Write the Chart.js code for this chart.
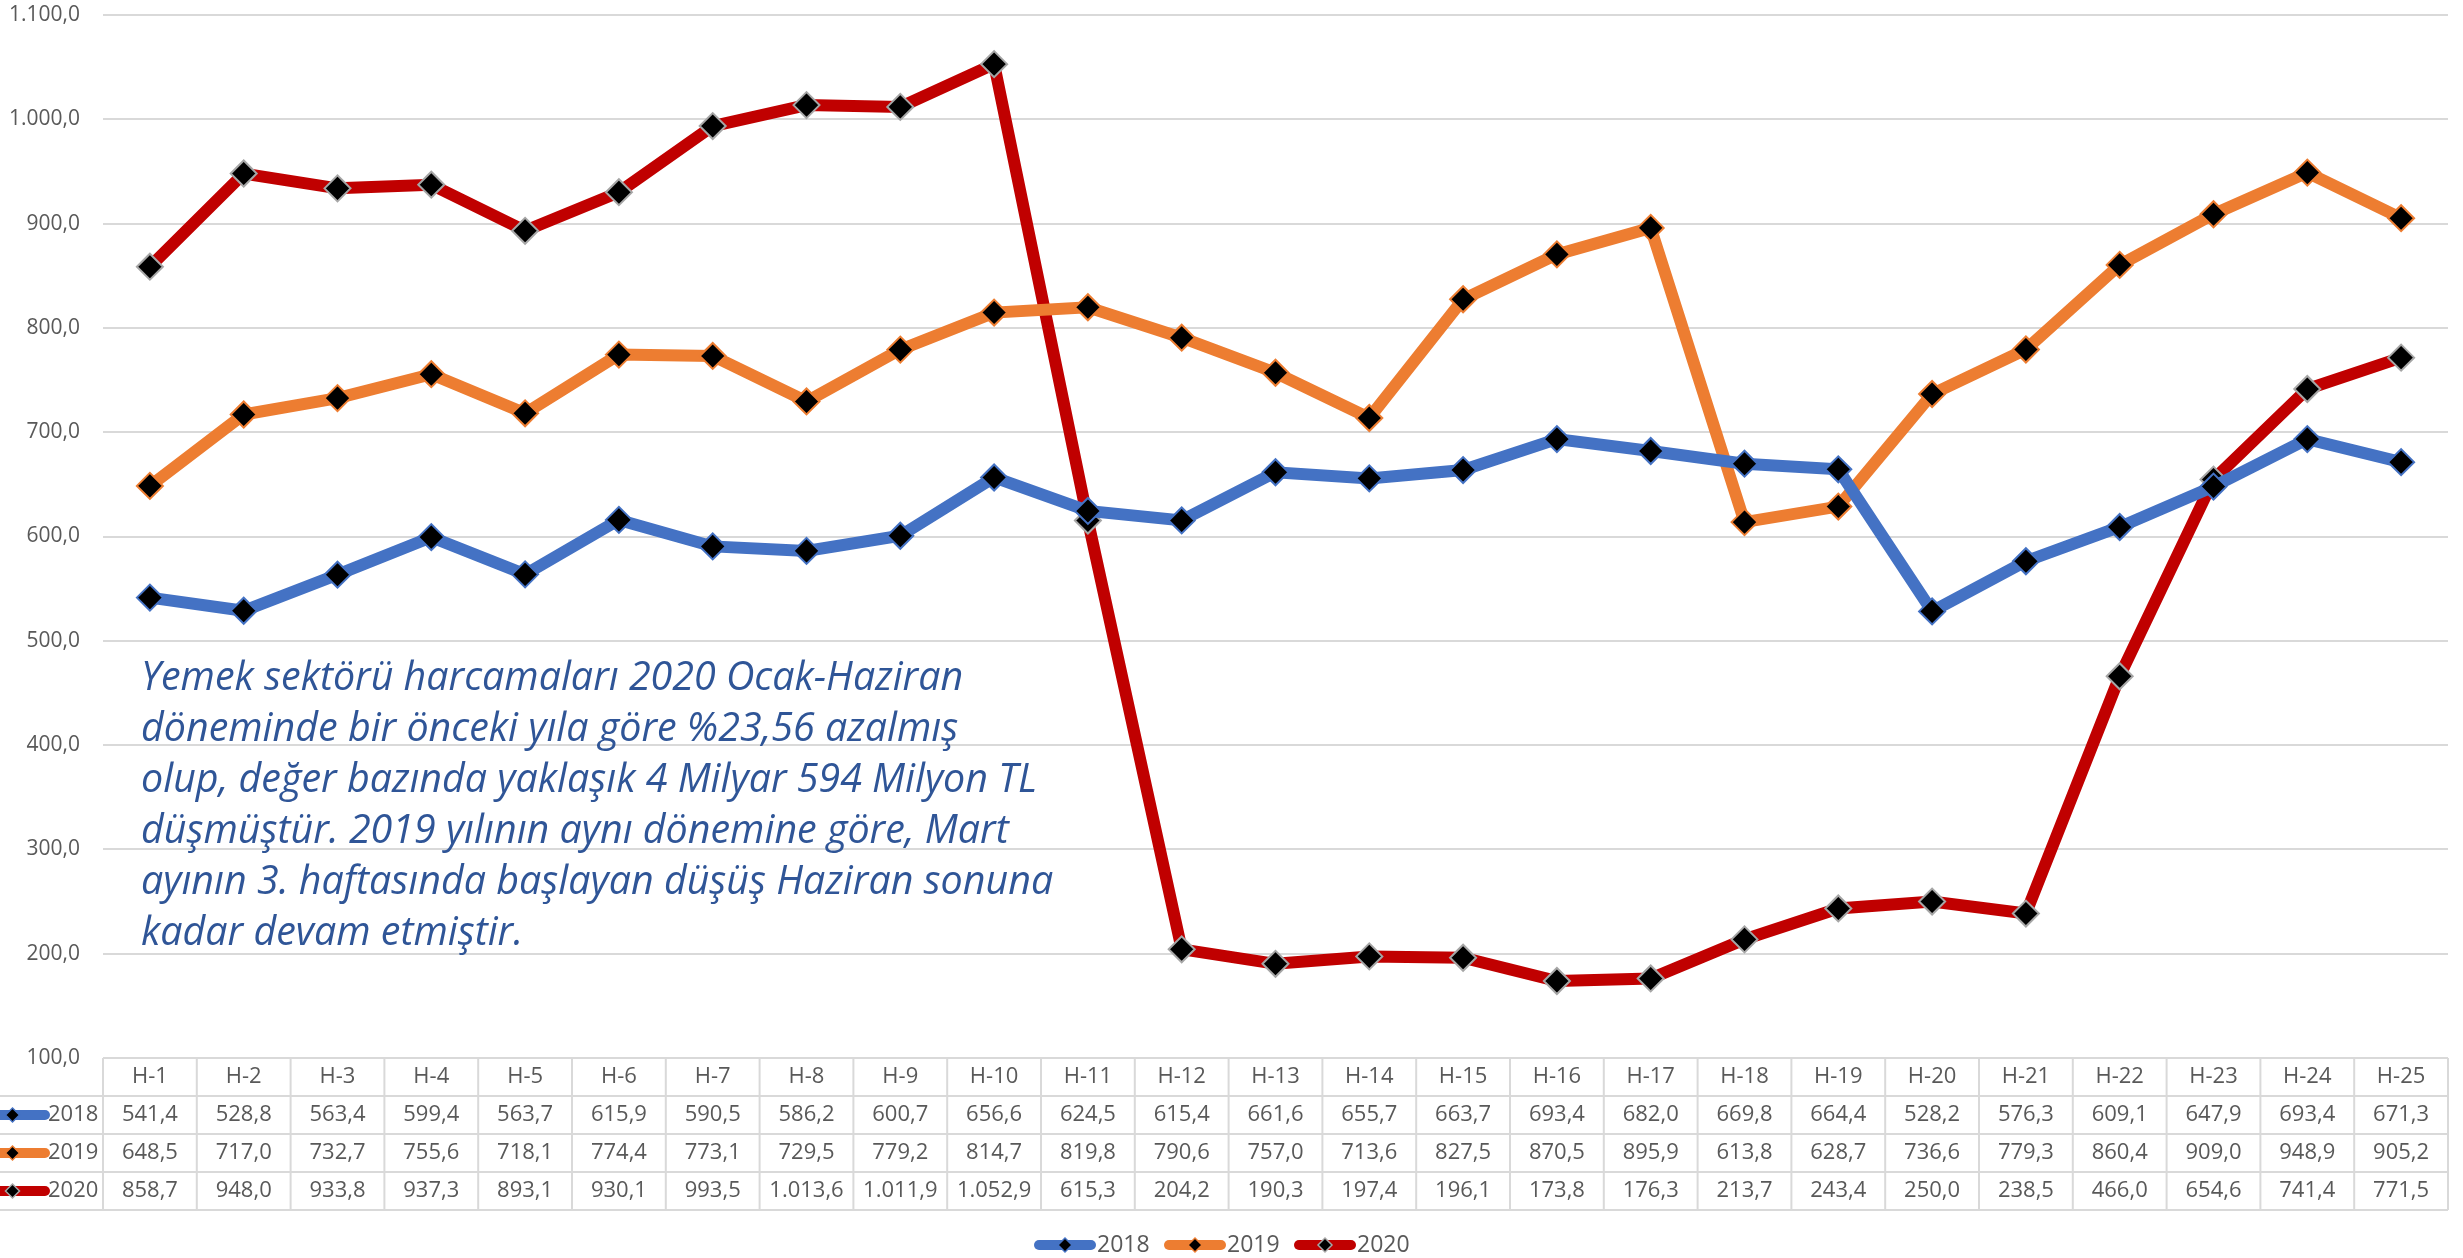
<!DOCTYPE html>
<html>
<head>
<meta charset="utf-8">
<script src="https://cdn.jsdelivr.net/npm/chart.js@4.4.1/dist/chart.umd.min.js"></script>
<style>
  html, body { margin: 0; padding: 0; background: #fff; }
  #wrap { width: 2463px; height: 1258px; position: relative; }
</style>
</head>
<body>
<div id="wrap"><canvas id="chart"></canvas></div>
<script>
// weeks
var labels = ["H-1","H-2","H-3","H-4","H-5","H-6","H-7","H-8","H-9","H-10","H-11","H-12","H-13","H-14","H-15","H-16","H-17","H-18","H-19","H-20","H-21","H-22","H-23","H-24","H-25"];
var y2018 = [541.4,528.8,563.4,599.4,563.7,615.9,590.5,586.2,600.7,656.6,624.5,615.4,661.6,655.7,663.7,693.4,682.0,669.8,664.4,528.2,576.3,609.1,647.9,693.4,671.3];
var y2019 = [648.5,717.0,732.7,755.6,718.1,774.4,773.1,729.5,779.2,814.7,819.8,790.6,757.0,713.6,827.5,870.5,895.9,613.8,628.7,736.6,779.3,860.4,909.0,948.9,905.2];
var y2020 = [858.7,948.0,933.8,937.3,893.1,930.1,993.5,1013.6,1011.9,1052.9,615.3,204.2,190.3,197.4,196.1,173.8,176.3,213.7,243.4,250.0,238.5,466.0,654.6,741.4,771.5];
var seriesNames = ["2018", "2019", "2020"];
var lineColors = ["#4472C4", "#ED7D31", "#C00000"];
var markerBorders = ["#4472C4", "#ED7D31", "#A6A6A6"];
var yMin = 100, yMax = 1100, yStep = 100;

var note = [
  "Yemek sektörü harcamaları 2020 Ocak-Haziran",
  "döneminde bir önceki yıla göre %23,56 azalmış",
  "olup, değer bazında yaklaşık 4 Milyar 594 Milyon TL",
  "düşmüştür. 2019 yılının aynı dönemine göre, Mart",
  "ayının 3. haftasında başlayan düşüş Haziran sonuna",
  "kadar devam etmiştir."
];

var FONT = "'Open Sans', 'Liberation Sans', sans-serif";
var GRAY = "#595959";
var BORDER = "#D9D9D9";

// 1.013,6 style
function fmt(v) {
  var s = v.toFixed(1).split(".");
  var intPart = s[0].replace(/\B(?=(\d{3})+(?!\d))/g, ".");
  return intPart + "," + s[1];
}

function drawKey(ctx, x1, x2, y, i, lw, r) {
  ctx.save();
  ctx.strokeStyle = lineColors[i];
  ctx.lineWidth = lw;
  ctx.lineCap = "round";
  ctx.beginPath();
  ctx.moveTo(x1, y);
  ctx.lineTo(x2, y);
  ctx.stroke();
  var cx = (x1 + x2) / 2;
  ctx.beginPath();
  ctx.moveTo(cx - r, y);
  ctx.lineTo(cx, y - r);
  ctx.lineTo(cx + r, y);
  ctx.lineTo(cx, y + r);
  ctx.closePath();
  ctx.fillStyle = "#000";
  ctx.fill();
  ctx.lineWidth = 1.5;
  ctx.strokeStyle = markerBorders[i];
  ctx.stroke();
  ctx.restore();
}

var extras = {
  id: "extras",
  beforeDatasetsDraw: function(chart) {
    var ctx = chart.ctx;
    ctx.save();
    // annotation text
    var base = 36;
    ctx.font = "italic " + base + "px " + FONT;
    var w = ctx.measureText(note[2]).width;
    var size = base * 896 / w;
    ctx.font = "italic " + size + "px " + FONT;
    ctx.fillStyle = "#2F5597";
    ctx.textBaseline = "alphabetic";
    ctx.textAlign = "left";
    for (var i = 0; i < note.length; i++) {
      ctx.fillText(note[i], 141, 690 + i * 51);
    }
    ctx.restore();
  },
  afterDraw: function(chart) {
    var ctx = chart.ctx;
    var x = chart.scales.x;
    var area = chart.chartArea;
    var colW = (area.right - area.left) / labels.length;
    var top = area.bottom;
    var rowH = 38;
    var data = [y2018, y2019, y2020];
    ctx.save();
    ctx.strokeStyle = BORDER;
    ctx.lineWidth = 2;
    // horizontal borders
    ctx.beginPath();
    ctx.moveTo(area.left, top); ctx.lineTo(area.right, top);
    for (var r = 1; r <= 4; r++) {
      ctx.moveTo(0, top + r * rowH); ctx.lineTo(area.right, top + r * rowH);
    }
    // vertical borders
    for (var c = 0; c <= labels.length; c++) {
      var vx = area.left + c * colW;
      ctx.moveTo(vx, top); ctx.lineTo(vx, top + 4 * rowH);
    }
    ctx.stroke();

    ctx.fillStyle = GRAY;
    ctx.font = "22px " + FONT;
    ctx.textAlign = "center";
    ctx.textBaseline = "middle";
    for (var k = 0; k < labels.length; k++) {
      var cx = x.getPixelForValue(k);
      ctx.fillText(labels[k], cx, top + rowH / 2);
      for (var s = 0; s < 3; s++) {
        ctx.fillText(fmt(data[s][k]), cx, top + rowH * (s + 1.5));
      }
    }
    // row headers
    ctx.textAlign = "left";
    for (var s2 = 0; s2 < 3; s2++) {
      var ry = top + rowH * (s2 + 1.5);
      drawKey(ctx, -20, 45, ry, s2, 10, 7);
      ctx.fillStyle = GRAY;
      ctx.fillText(seriesNames[s2], 48, ry);
    }

    // legend
    var lx = [1035, 1165, 1295];
    ctx.font = "23px " + FONT;
    for (var j = 0; j < 3; j++) {
      drawKey(ctx, lx[j] + 4, lx[j] + 56, 1245, j, 10, 7);
      ctx.fillStyle = GRAY;
      ctx.fillText(seriesNames[j], lx[j] + 62, 1245);
    }
    ctx.restore();
  }
};

var datasets = [y2018, y2019, y2020].map(function(d, i) {
  return {
    label: seriesNames[i],
    data: d,
    borderColor: lineColors[i],
    backgroundColor: "#000",
    borderWidth: 12,
    pointStyle: "rectRot",
    pointRadius: 13,
    pointBackgroundColor: "#000",
    pointBorderColor: markerBorders[i],
    pointBorderWidth: 2,
    tension: 0,
    clip: false
  };
});

new Chart(document.getElementById("chart"), {
  type: "line",
  data: { labels: labels, datasets: datasets },
  options: {
    responsive: true,
    maintainAspectRatio: false,
    animation: false,
    layout: { padding: { top: 14, bottom: 200, right: 0, left: 0 } },
    plugins: { legend: { display: false }, tooltip: { enabled: false } },
    scales: {
      x: { display: false, offset: true },
      y: {
        min: yMin,
        max: yMax,
        afterFit: function(scale) {
          scale.width = 103;
          scale.paddingTop = 0;
          scale.paddingBottom = 0;
        },
        ticks: {
          stepSize: yStep,
          padding: 23,
          color: GRAY,
          font: { family: FONT, size: 21 },
          callback: function(v) { return fmt(v); }
        },
        grid: { color: BORDER, lineWidth: 2, drawTicks: false },
        border: { display: false }
      }
    }
  },
  plugins: [extras]
});
</script>
</body>
</html>
